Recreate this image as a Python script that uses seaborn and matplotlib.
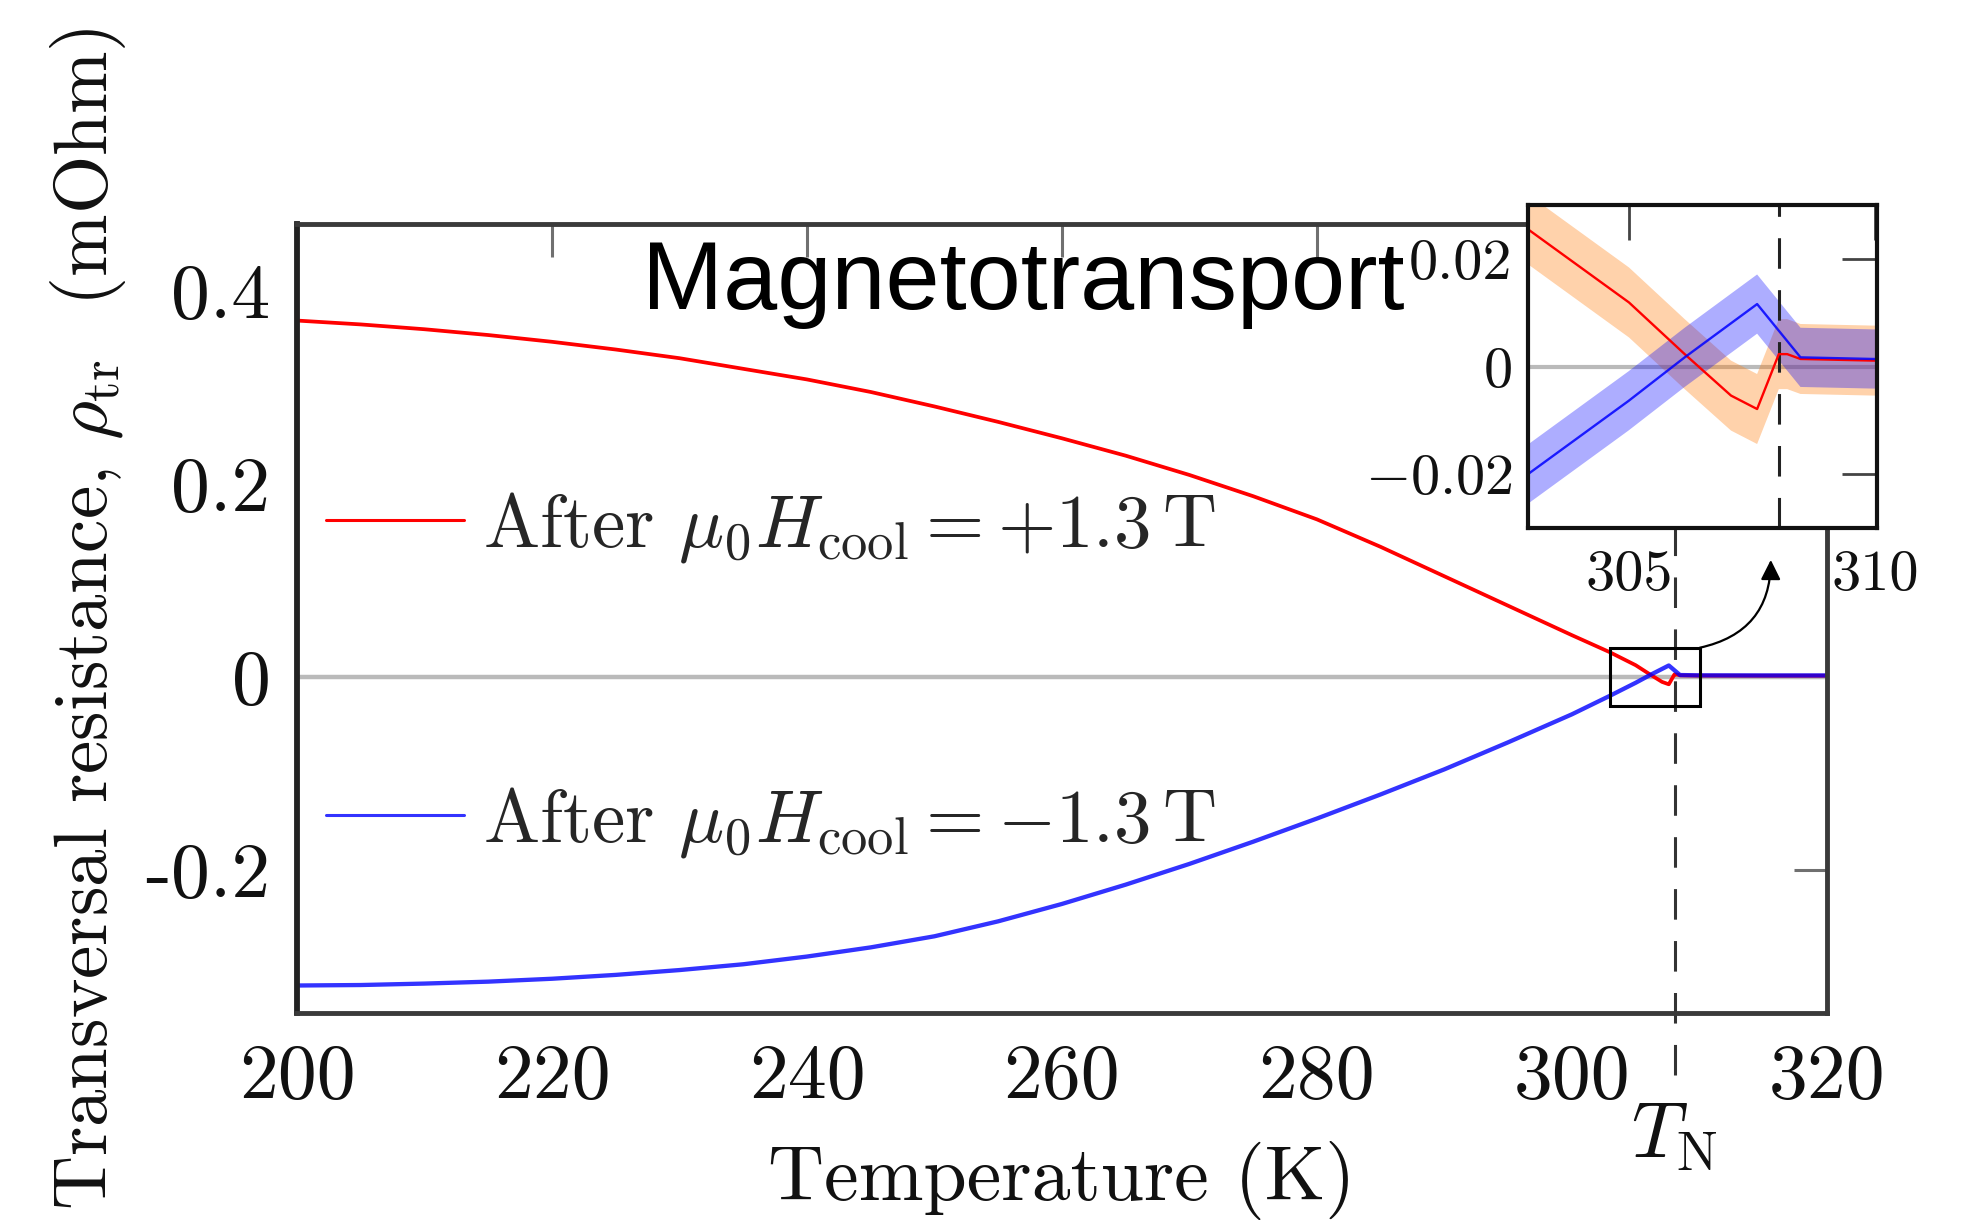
import matplotlib
matplotlib.use("Agg")
import matplotlib.pyplot as plt
import matplotlib.transforms as mtransforms
from matplotlib.patches import Rectangle
import seaborn as sns

# Transversal resistance (mOhm) versus temperature (K) after field cooling
temp_plus = [200, 205, 210, 215, 220, 225, 230, 235, 240, 245, 250, 255, 260,
             265, 270, 275, 280, 285, 290, 295, 300,
             302.95, 305.0, 306.13, 307.07, 307.6, 308.04, 308.21, 308.48,
             309.95, 315, 320]
rho_plus = [0.369, 0.365, 0.360, 0.354, 0.347, 0.339, 0.330, 0.319, 0.308,
            0.295, 0.280, 0.264, 0.247, 0.229, 0.209, 0.187, 0.163, 0.1345,
            0.104, 0.0735, 0.043,
            0.0255, 0.0119, 0.0023, -0.0054, -0.0079, 0.0023, 0.0023, 0.0014,
            0.0011, 0.0010, 0.0010]

temp_minus = [200, 205, 210, 215, 220, 225, 230, 235, 240, 245, 250, 255, 260,
              265, 270, 275, 280, 285, 290, 295, 300,
              302.95, 304.99, 306.13, 307.6, 308.48, 309.95, 315, 320]
rho_minus = [-0.320, -0.3195, -0.318, -0.316, -0.313, -0.309, -0.304, -0.298,
             -0.290, -0.2805, -0.269, -0.2535, -0.2355, -0.2155, -0.194, -0.171,
             -0.147, -0.122, -0.096, -0.068, -0.039,
             -0.0200, -0.0064, 0.0017, 0.0116, 0.0017, 0.0014, 0.0013, 0.0013]

# uncertainty half-widths shown in the zoomed panel
err_plus = 0.0065
err_minus = 0.0055

T_N = 308.05

label_plus = r"After $\mu_0 H_{\rm cool} = +1.3\,\mathrm{T}$"
label_minus = r"After $\mu_0 H_{\rm cool} = -1.3\,\mathrm{T}$"

main_xticks = [200, 220, 240, 260, 280, 300, 320]
main_yticks = [-0.2, 0, 0.2, 0.4]
main_yticklabels = ["-0.2", "0", "0.2", "0.4"]
main_xlim = (200, 320)
main_ylim = (-0.3485, 0.469)

zoom_xticks = [305, 310]
zoom_yticks = [-0.02, 0, 0.02]
zoom_yticklabels = [r"$-0.02$", "0", "0.02"]
zoom_xlim = (302.95, 310.03)
zoom_ylim = (-0.030, 0.030)

sns.set_theme(style="white")
plt.rcParams["font.family"] = ["cmr10"]
plt.rcParams["mathtext.fontset"] = "cm"
plt.rcParams["axes.unicode_minus"] = False
plt.rcParams["axes.formatter.use_mathtext"] = True

RED = "#ff0000"
BLUE = "#0000ff"
ORANGE = "#ff7f0e"
GRID_GREY = "#bababa"

fig = plt.figure(figsize=(19.68, 12.27), dpi=100)
ax = fig.add_axes([0.1509, 0.1744, 0.7774, 0.6430])

# ---------------- main panel ----------------
ax.axhline(0, color=GRID_GREY, lw=3.2, zorder=0.8)
sns.lineplot(x=temp_plus, y=rho_plus, color=RED, lw=2.7, ax=ax,
             sort=False, estimator=None, zorder=2)
line_plus = ax.lines[-1]
sns.lineplot(x=temp_minus, y=rho_minus, color=BLUE, lw=3.1, alpha=0.8, ax=ax,
             sort=False, estimator=None, zorder=2.1)
line_minus = ax.lines[-1]

ax.axvline(T_N, ymin=-0.079, ymax=1, color="#333333", lw=2.2,
           dashes=(10, 7), clip_on=False, zorder=1.5)

ax.set_xlim(*main_xlim)
ax.set_ylim(*main_ylim)
ax.set_xticks(main_xticks)
ax.set_xticklabels([str(t) for t in main_xticks])
ax.set_yticks(main_yticks)
ax.set_yticklabels(main_yticklabels)
ax.tick_params(axis="both", which="major", direction="in", top=True, right=True,
               length=24, width=2.2, color="#707070", labelsize=56,
               labelcolor="#111111")
ax.tick_params(axis="x", pad=22)
ax.tick_params(axis="y", pad=19)
for side, sp in ax.spines.items():
    sp.set_linewidth(3.5)
    sp.set_color("#3a3a3a")
ax.spines["left"].set_color("#222222")
ax.spines["left"].set_linewidth(4.2)

ax.set_xlabel("Temperature (K)", fontsize=56, va="center", color="#111111")
ax.xaxis.set_label_coords(0.5, -0.2117)
ax.set_ylabel(r"Transversal resistance, $\rho_{\rm tr}$  (mOhm)", fontsize=54,
              va="center", color="#111111")
ax.yaxis.set_label_coords(-0.1366, 0.5)

# T_N marker under the axis
trans = mtransforms.blended_transform_factory(ax.transData, ax.transAxes)
ax.text(T_N, -0.158, r"$T_{\mathrm{N}}$", transform=trans, ha="center",
        va="center", fontsize=56, color="#111111")

# legend entries
leg_kw = dict(frameon=False, fontsize=54, handlelength=1.84, handletextpad=0.25,
              borderpad=0, borderaxespad=0, loc="center left")
if ax.get_legend() is not None:
    ax.get_legend().remove()
leg1 = ax.legend([line_plus], [label_plus], bbox_to_anchor=(0.019, 0.616), **leg_kw)
ax.add_artist(leg1)
leg2 = ax.legend([line_minus], [label_minus], bbox_to_anchor=(0.019, 0.242), **leg_kw)
for leg in (leg1, leg2):
    for h in leg.legend_handles:
        h.set_linewidth(2.2)

# box marking the zoomed region and arrow towards it
ax.add_patch(Rectangle((zoom_xlim[0], zoom_ylim[0]),
                       zoom_xlim[1] - zoom_xlim[0], zoom_ylim[1] - zoom_ylim[0],
                       fill=False, edgecolor="black", lw=2.2, zorder=3))
ax.annotate("", xy=(315.6, 0.121), xytext=(zoom_xlim[1], zoom_ylim[1]),
            arrowprops=dict(arrowstyle="-|>", color="black", lw=1.6,
                            connectionstyle="arc3,rad=0.4",
                            shrinkA=0, shrinkB=0, mutation_scale=30),
            annotation_clip=False, zorder=3)

# ---------------- zoomed panel ----------------
axin = fig.add_axes([0.7764, 0.5697, 0.1773, 0.2632])
axin.set_facecolor("white")
axin.set_axisbelow(True)
axin.axhline(0, color=GRID_GREY, lw=3.0, zorder=0.8)
axin.fill_between(temp_plus, [v - err_plus for v in rho_plus],
                  [v + err_plus for v in rho_plus],
                  color=ORANGE, alpha=0.35, lw=0, zorder=1)
axin.fill_between(temp_minus, [v - err_minus for v in rho_minus],
                  [v + err_minus for v in rho_minus],
                  color=BLUE, alpha=0.32, lw=0, zorder=1.1)
axin.axvline(T_N, color="#222222", lw=2.2, dashes=(10, 7), zorder=1.5)
sns.lineplot(x=temp_plus, y=rho_plus, color=RED, lw=1.7, ax=axin,
             sort=False, estimator=None, zorder=2)
sns.lineplot(x=temp_minus, y=rho_minus, color=BLUE, lw=1.7, alpha=0.85, ax=axin,
             sort=False, estimator=None, zorder=2.1)
if axin.get_legend() is not None:
    axin.get_legend().remove()
axin.set_xlim(*zoom_xlim)
axin.set_ylim(*zoom_ylim)
axin.set_xticks(zoom_xticks)
axin.set_xticklabels([str(t) for t in zoom_xticks])
axin.set_yticks(zoom_yticks)
axin.set_yticklabels(zoom_yticklabels)
axin.tick_params(axis="both", direction="in", top=True, right=True, length=25,
                 width=2.0, color="#444444", labelsize=42, labelcolor="#111111")
axin.tick_params(axis="x", pad=16)
axin.tick_params(axis="y", pad=11)
for sp in axin.spines.values():
    sp.set_linewidth(3.0)
    sp.set_color("#111111")

fig.text(642 / 1968, 1 - 309 / 1227, "Magnetotransport", fontsize=70,
         family="Liberation Sans", ha="left", va="baseline", color="black",
         zorder=5)

fig.savefig("out.png", dpi=100, facecolor="white")
